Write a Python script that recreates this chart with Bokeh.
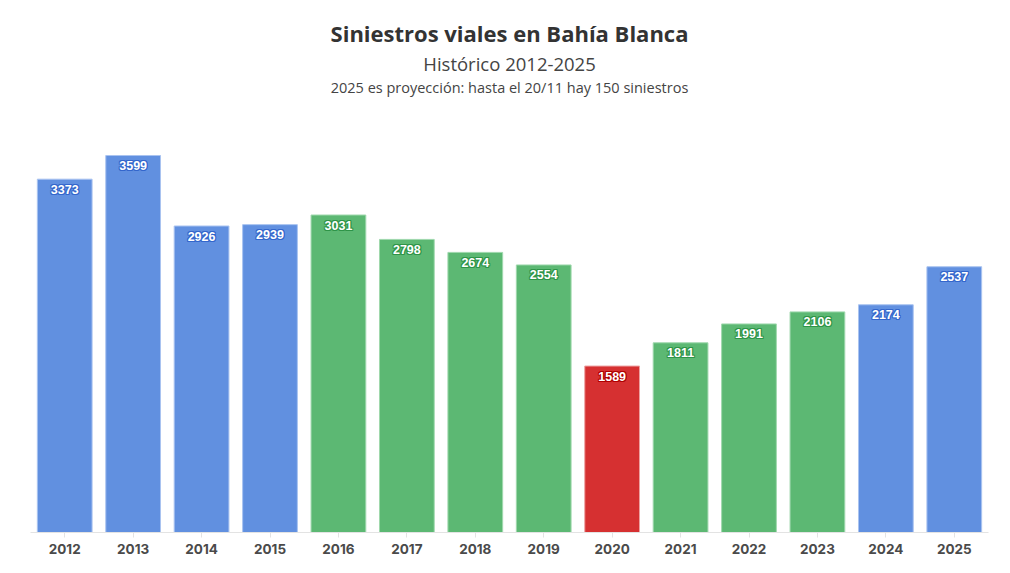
from bokeh.plotting import figure
from bokeh.models import ColumnDataSource, Title, FactorRange, Range1d
from bokeh.core.properties import value
from bokeh.embed import file_html
from bokeh.resources import INLINE

years = ["2012", "2013", "2014", "2015", "2016", "2017", "2018", "2019",
         "2020", "2021", "2022", "2023", "2024", "2025"]
values = [3373, 3599, 2926, 2939, 3031, 2798, 2674, 2554, 1589, 1811, 1991, 2106, 2174, 2537]
groups = ["b", "b", "b", "b", "g", "g", "g", "g", "r", "g", "g", "g", "b", "b"]

fill = {"b": "#6190e0", "g": "#5cb873", "r": "#d63031"}
edge = {"b": "#a9c3f0", "g": "#9fd8ad", "r": "#eda0a0"}
shade = {"b": "#3366cc", "g": "#2e9448", "r": "#b00000"}

src = ColumnDataSource(dict(
    x=years, top=values,
    fill=[fill[g] for g in groups],
    edge=[edge[g] for g in groups],
    shade=[shade[g] for g in groups],
    lab=[str(v) for v in values],
))

W, H = 994, 557
p = figure(width=W, height=H, x_range=FactorRange(*years, range_padding=0),
           y_range=Range1d(0, 4000), output_backend="svg", toolbar_location=None,
           min_border_left=30, min_border_right=6, min_border_top=113,
           min_border_bottom=25)
p.title = None
p.outline_line_color = None
p.background_fill_color = "white"
p.border_fill_color = "white"
p.grid.visible = False
p.yaxis.visible = False

p.vbar(x="x", top="top", width=0.8, source=src, fill_color="fill",
       line_color="edge", line_width=1)

offs = [(-1, 0), (1, 0), (0, -1), (0, 1), (-1, -1), (1, 1), (-1, 1), (1, -1)]
for dx, dy in offs:
    p.text(x="x", y="top", text="lab", source=src, x_offset=dx, y_offset=10 + dy,
           text_align="center", text_baseline="middle", text_color="shade",
           text_font=value("Liberation Sans"), text_font_style="bold",
           text_font_size="12.5px")
p.text(x="x", y="top", text="lab", source=src, y_offset=10,
       text_align="center", text_baseline="middle", text_color="white",
       text_font=value("Liberation Sans"), text_font_style="bold",
       text_font_size="12.5px")

ax = p.xaxis[0]
ax.axis_line_color = "#e3e3e3"
ax.major_tick_line_color = "#e3e3e3"
ax.major_tick_out = 5
ax.major_tick_in = 0
ax.minor_tick_line_color = None
ax.major_label_text_font = "Inter"
ax.major_label_text_font_style = "bold"
ax.major_label_text_font_size = "13.5px"
ax.major_label_text_color = "#4a4a4a"
ax.major_label_standoff = 6

titles = [
    ("2025 es proyección: hasta el 20/11 hay 150 siniestros", "14.5px", "normal", "#444444", 33),
    ("Histórico 2012-2025", "18.5px", "normal", "#444444", -32),
    ("Siniestros viales en Bahía Blanca", "22px", "bold", "#333333", 24),
]
for txt, size, style, color, so in titles:
    p.add_layout(Title(text=txt, align="center", text_font="Open Sans",
                       text_font_size=size, text_font_style=style,
                       text_color=color, standoff=so, offset=0), "above")

open("out.html", "w").write(file_html(p, INLINE))
